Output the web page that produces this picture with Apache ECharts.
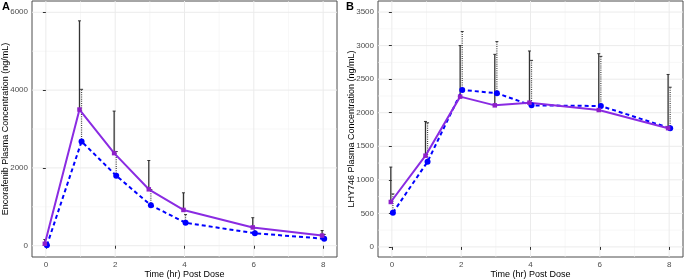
<!DOCTYPE html>
<html>
<head>
<meta charset="utf-8">
<script src="https://cdn.jsdelivr.net/npm/echarts@6/dist/echarts.min.js"></script>
<style>
  html, body { margin: 0; padding: 0; background: #fff; }
  #chart { width: 685px; height: 280px; }
</style>
</head>
<body>
<div id="chart"></div>
<script>
// time points (hr)
const timeHr = [0, 1, 2, 3, 4, 6, 8];

// panel A - encorafenib
const encoSolidMean = [50, 3500, 2380, 1450, 920, 470, 260];
const encoSolidUpper = [160, 5780, 3460, 2190, 1360, 720, 390];
const encoDashMean = [10, 2680, 1800, 1040, 590, 320, 180];
const encoDashUpper = [60, 4020, 2420, 1440, 800, 460, 290];

// panel B - LHY746
const lhySolidMean = [670, 1360, 2240, 2110, 2150, 2040, 1770];
const lhySolidUpper = [1190, 1870, 3000, 2870, 2920, 2880, 2570];
const lhyDashMean = [510, 1270, 2340, 2290, 2110, 2100, 1770];
const lhyDashUpper = [790, 1850, 3210, 3060, 2780, 2840, 2380];

// ticks
const xTicks = [0, 2, 4, 6, 8];
const xMinor = [1, 3, 5, 7];
const yTicksA = [0, 2000, 4000, 6000];
const yMinorA = [1000, 3000, 5000];
const yTicksB = [0, 500, 1000, 1500, 2000, 2500, 3000, 3500];
const yMinorB = [250, 750, 1250, 1750, 2250, 2750, 3250];

const dodge = 0.03;
const purple = '#8a2be2';
const blue = '#0000ff';
const font = 'Liberation Sans, Arial, sans-serif';

const chart = echarts.init(document.getElementById('chart'));

function pairs(xs, ys, off) {
    return xs.map((x, i) => [x + off, ys[i]]);
}
function bars(xs, lo, hi, off) {
    return xs.map((x, i) => [x + off, lo[i], hi[i]]);
}

function gridLines(idx, values, vertical, width, color) {
    return {
        type: 'custom', xAxisIndex: idx, yAxisIndex: idx, silent: true, z: 0,
        data: values.map(v => vertical ? [v, 0] : [0, v]),
        encode: { x: 0, y: 1 },
        renderItem: function (params, api) {
            const cs = params.coordSys;
            if (vertical) {
                const px = api.coord([api.value(0), 0])[0];
                return { type: 'line', shape: { x1: px, y1: cs.y, x2: px, y2: cs.y + cs.height },
                    style: { stroke: color, lineWidth: width } };
            }
            const py = api.coord([0, api.value(1)])[1];
            return { type: 'line', shape: { x1: cs.x, y1: py, x2: cs.x + cs.width, y2: py },
                style: { stroke: color, lineWidth: width } };
        }
    };
}

function errorBars(idx, data, dashed) {
    return {
        type: 'custom', xAxisIndex: idx, yAxisIndex: idx, silent: true, z: 1,
        data: data,
        encode: { x: 0, y: [1, 2] },
        renderItem: function (params, api) {
            const lo = api.coord([api.value(0), api.value(1)]);
            const hi = api.coord([api.value(0), api.value(2)]);
            const st = { stroke: dashed ? '#444' : '#333', lineWidth: dashed ? 1.2 : 1.3,
                lineDash: dashed ? [1, 1.2] : null };
            return { type: 'group', children: [
                { type: 'line', shape: { x1: lo[0], y1: lo[1], x2: hi[0], y2: hi[1] }, style: st },
                { type: 'line', shape: { x1: hi[0] - 1.5, y1: hi[1], x2: hi[0] + 1.5, y2: hi[1] },
                    style: { stroke: '#333', lineWidth: 1 } }
            ]};
        }
    };
}

function lineSeries(idx, data, dashed) {
    return {
        type: 'line', xAxisIndex: idx, yAxisIndex: idx, z: 3,
        data: data,
        symbol: dashed ? 'circle' : 'rect',
        symbolSize: dashed ? 6 : 4.5,
        itemStyle: { color: dashed ? blue : '#8e1fc9' },
        lineStyle: { color: dashed ? blue : purple, width: 2, type: dashed ? [4, 3] : 'solid' },
        animation: false
    };
}

function xAxis(idx) {
    return {
        type: 'value', gridIndex: idx, min: -0.4, max: 8.4,
        name: 'Time (hr) Post Dose', nameLocation: 'middle', nameGap: 13, nameMoveOverlap: false,
        nameTextStyle: { fontFamily: font, fontSize: 9, color: '#000' },
        axisLine: { show: false },
        axisTick: { show: true, customValues: xTicks, length: 3, lineStyle: { color: '#333' } },
        axisLabel: { customValues: xTicks, formatter: v => String(v),
            fontFamily: font, fontSize: 8, color: '#4d4d4d', margin: 4 },
        splitLine: { show: false }
    };
}

function yAxis(idx, min, max, ticks, name, gap) {
    return {
        type: 'value', gridIndex: idx, min: min, max: max,
        name: name, nameLocation: 'middle', nameGap: gap, nameMoveOverlap: false,
        nameTextStyle: { fontFamily: font, fontSize: 9, color: '#000' },
        axisLine: { show: false },
        axisTick: { show: true, customValues: ticks, length: 3, lineStyle: { color: '#333' } },
        axisLabel: { customValues: ticks, formatter: v => String(v),
            fontFamily: font, fontSize: 8, color: '#4d4d4d', margin: 4 },
        splitLine: { show: false }
    };
}

chart.setOption({
    animation: false,
    title: [
        { text: 'A', left: 2, top: 1, padding: 0,
          textStyle: { fontFamily: font, fontSize: 11, fontWeight: 'bold', color: '#000' } },
        { text: 'B', left: 346, top: 1, padding: 0,
          textStyle: { fontFamily: font, fontSize: 11, fontWeight: 'bold', color: '#000' } }
    ],
    grid: [
        { left: 32, top: 1, width: 305, height: 256, show: true, borderColor: '#4d4d4d', borderWidth: 1,
          containLabel: false, outerBoundsMode: 'none' },
        { left: 378, top: 1, width: 305, height: 256, show: true, borderColor: '#4d4d4d', borderWidth: 1,
          containLabel: false, outerBoundsMode: 'none' }
    ],
    xAxis: [xAxis(0), xAxis(1)],
    yAxis: [
        yAxis(0, -290, 6290, yTicksA, 'Encorafenib Plasma Concentration (ng/mL)', 22),
        yAxis(1, -150, 3665, yTicksB, 'LHY746 Plasma Concentration (ng/mL)', 22)
    ],
    series: [
        gridLines(0, yMinorA, false, 0.6, '#f2f2f2'),
        gridLines(0, xMinor, true, 0.6, '#f2f2f2'),
        gridLines(0, yTicksA, false, 1, '#ebebeb'),
        gridLines(0, xTicks, true, 1, '#ebebeb'),
        gridLines(1, yMinorB, false, 0.6, '#f2f2f2'),
        gridLines(1, xMinor, true, 0.6, '#f2f2f2'),
        gridLines(1, yTicksB, false, 1, '#ebebeb'),
        gridLines(1, xTicks, true, 1, '#ebebeb'),

        errorBars(0, bars(timeHr, encoSolidMean, encoSolidUpper, -dodge), false),
        errorBars(0, bars(timeHr, encoDashMean, encoDashUpper, dodge), true),
        errorBars(1, bars(timeHr, lhySolidMean, lhySolidUpper, -dodge), false),
        errorBars(1, bars(timeHr, lhyDashMean, lhyDashUpper, dodge), true),

        lineSeries(0, pairs(timeHr, encoDashMean, dodge), true),
        lineSeries(0, pairs(timeHr, encoSolidMean, -dodge), false),
        lineSeries(1, pairs(timeHr, lhyDashMean, dodge), true),
        lineSeries(1, pairs(timeHr, lhySolidMean, -dodge), false)
    ]
});
</script>
</body>
</html>
